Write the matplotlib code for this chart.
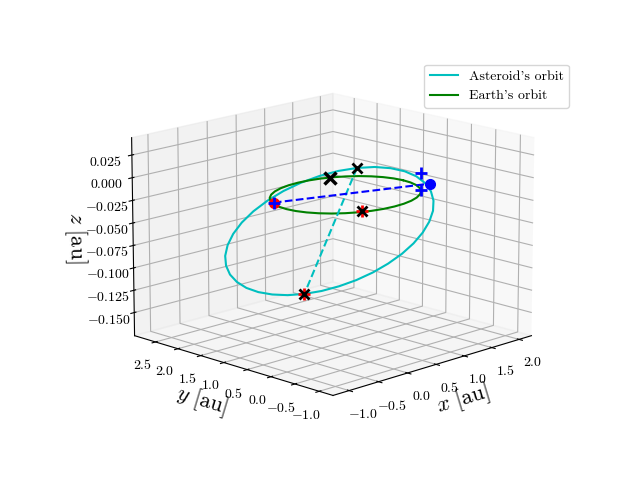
import matplotlib
matplotlib.use('Agg')
import matplotlib.pyplot as plt

plt.rcParams['font.family'] = ['cmr10', 'DejaVu Sans']
plt.rcParams['mathtext.fontset'] = 'cm'
plt.rcParams['axes.formatter.use_mathtext'] = True

# orbit samples
earth_x = [1.0, 0.985, 0.94, 0.866, 0.766, 0.643, 0.5, 0.342, 0.174, 0.0,
           -0.174, -0.342, -0.5, -0.643, -0.766, -0.866, -0.94, -0.985, -1.0,
           -0.985, -0.94, -0.866, -0.766, -0.643, -0.5, -0.342, -0.174, 0.0,
           0.174, 0.342, 0.5, 0.643, 0.766, 0.866, 0.94, 0.985, 1.0]
earth_y = [0.0, 0.174, 0.342, 0.5, 0.643, 0.766, 0.866, 0.94, 0.985, 1.0,
           0.985, 0.94, 0.866, 0.766, 0.643, 0.5, 0.342, 0.174, 0.0,
           -0.174, -0.342, -0.5, -0.643, -0.766, -0.866, -0.94, -0.985, -1.0,
           -0.985, -0.94, -0.866, -0.766, -0.643, -0.5, -0.342, -0.174, 0.0]
earth_z = [0.0] * 37

ast_x = [1.135, 1.347, 1.53, 1.678, 1.788, 1.856, 1.881, 1.861, 1.797, 1.69,
         1.545, 1.365, 1.156, 0.924, 0.678, 0.422, 0.166, -0.081, -0.315,
         -0.527, -0.71, -0.858, -0.968, -1.036, -1.06, -1.041, -0.977, -0.87,
         -0.725, -0.545, -0.336, -0.104, 0.142, 0.398, 0.654, 0.901, 1.135]
ast_y = [2.27, 2.146, 1.984, 1.785, 1.557, 1.308, 1.043, 0.772, 0.505, 0.245,
         0.003, -0.212, -0.397, -0.544, -0.649, -0.71, -0.724, -0.69, -0.61,
         -0.486, -0.324, -0.125, 0.103, 0.352, 0.617, 0.888, 1.155, 1.415,
         1.657, 1.872, 2.057, 2.204, 2.309, 2.37, 2.384, 2.35, 2.27]
ast_z = [-0.161, -0.1595, -0.1549, -0.1475, -0.1374, -0.1249, -0.1105, -0.0945, -0.0776, -0.06,
         -0.0424, -0.0255, -0.0095, 0.0049, 0.0174, 0.0275, 0.0349, 0.0395, 0.041,
         0.0395, 0.0349, 0.0275, 0.0174, 0.0049, -0.0095, -0.0255, -0.0424, -0.06,
         -0.0776, -0.0945, -0.1105, -0.1249, -0.1374, -0.1475, -0.1549, -0.1595, -0.161]

apsis_x = [-0.315, 1.135]
apsis_y = [-0.61, 2.27]
apsis_z = [0.041, -0.161]

node_x = [-0.89, 1.11]
node_y = [0.40, -0.43]
node_z = [0.0, 0.0]

earth_apsis_x = [0.445, -0.445]
earth_apsis_y = [0.866, -0.866]
earth_apsis_z = [0.0, 0.0]

blue_plus_x = [-0.89, 0.824, 1.088]
blue_plus_y = [0.40, -0.584, -0.273]
blue_plus_z = [0.0, 0.0, 0.01]

x_ticks = [-1.0, -0.5, 0.0, 0.5, 1.0, 1.5, 2.0]
y_ticks = [-1.0, -0.5, 0.0, 0.5, 1.0, 1.5, 2.0, 2.5]
z_ticks = [-0.150, -0.125, -0.100, -0.075, -0.050, -0.025, 0.0, 0.025]

fig = plt.figure(figsize=(6.4, 4.8), dpi=100)
ax = fig.add_subplot(projection='3d', computed_zorder=False)
ax.set_box_aspect((4, 4, 2.9), zoom=1.18)
ax.set_proj_type('persp', focal_length=1.8)
ax.view_init(elev=15, azim=-135)

ax.plot(ast_x, ast_y, ast_z, color='c', label="Asteroid's orbit", zorder=2)
ax.plot(earth_x, earth_y, earth_z, color='g', label="Earth's orbit", zorder=2)
ax.plot(apsis_x, apsis_y, apsis_z, 'c--', zorder=3)
ax.plot(node_x, node_y, node_z, 'b--', zorder=3)

ax.plot(node_x[:1], node_y[:1], node_z[:1], 'ro', ms=7, zorder=4)
ax.plot(node_x[1:], node_y[1:], node_z[1:], 'bo', ms=7, zorder=4)
ax.plot(blue_plus_x, blue_plus_y, blue_plus_z, 'b+', ms=8, mew=2, ls='none', zorder=5)
ax.plot(earth_apsis_x[1:], earth_apsis_y[1:], earth_apsis_z[1:], 'r+', ms=8, mew=2, ls='none', zorder=5)
ax.plot(apsis_x[1:], apsis_y[1:], apsis_z[1:], 'r+', ms=8, mew=2, zorder=5)
ax.plot(apsis_x, apsis_y, apsis_z, 'kx', ms=7, mew=2, ls='none', zorder=6)
ax.plot(earth_apsis_x[1:], earth_apsis_y[1:], earth_apsis_z[1:], 'kx', ms=7, mew=2, ls='none', zorder=6)
ax.plot(earth_apsis_x[:1], earth_apsis_y[:1], earth_apsis_z[:1], 'kx', ms=8, mew=2.5, ls='none', zorder=6)

ax.set_xlim(-1.27, 2.23)
ax.set_ylim(-1.28, 2.97)
ax.set_zlim(-0.176, 0.044)
ax.set_xticks(x_ticks, [f'${v:.1f}$' for v in x_ticks])
ax.set_yticks(y_ticks, [f'${v:.1f}$' for v in y_ticks])
ax.set_zticks(z_ticks, [f'${v:.3f}$' for v in z_ticks])
ax.tick_params(axis='both', pad=1)
ax.set_xlabel(r'$x\ \mathrm{[au]}$', fontsize=16, labelpad=-2.5)
ax.set_ylabel(r'$y\ \mathrm{[au]}$', fontsize=16, labelpad=-2)
ax.set_zlabel(r'$z\ \mathrm{[au]}$', fontsize=16, labelpad=-1)
ax.legend(loc='upper right', bbox_to_anchor=(0.9, 0.88), bbox_transform=fig.transFigure)

fig.savefig('out.png', dpi=100)
